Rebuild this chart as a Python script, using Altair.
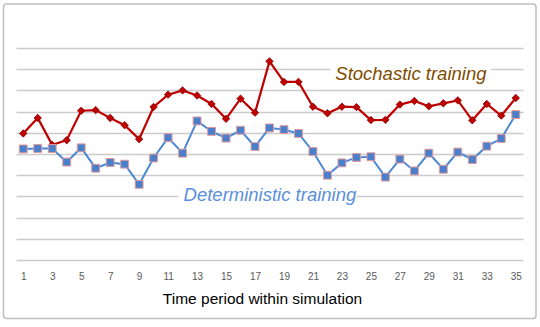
import altair as alt
import pandas as pd

# Time periods 1..35 and the two series (in gridline units, 0..10)
periods = list(range(1, 36))
stochastic = [5.97, 6.70, 5.43, 5.65, 7.04, 7.07, 6.70, 6.36, 5.70, 7.22,
              7.80, 8.00, 7.76, 7.36, 6.66, 7.61, 6.95, 9.37, 8.40, 8.40,
              7.23, 6.92, 7.23, 7.21, 6.60, 6.61, 7.33, 7.50, 7.25, 7.39,
              7.53, 6.59, 7.36, 6.81, 7.64]
deterministic = [5.24, 5.26, 5.26, 4.62, 5.29, 4.33, 4.60, 4.52, 3.57, 4.81,
                 5.77, 5.04, 6.56, 6.07, 5.75, 6.12, 5.35, 6.23, 6.15, 5.97,
                 5.12, 4.00, 4.58, 4.84, 4.87, 3.91, 4.76, 4.20, 5.04, 4.28,
                 5.09, 4.74, 5.37, 5.73, 6.86]
tick_labels = list(range(1, 36, 2))
grid_values = list(range(0, 11))

# Inline series labels
label_text = ["Stochastic training", "Deterministic training"]
label_color = ["#7F4C00", "#5A8FDB"]
label_x = [27.76, 18.03]
label_y = [8.76, 3.08]
box_x = [22.2, 11.7]
box_x2 = [33.3, 24.0]
box_y = [8.5, 2.7]
box_y2 = [9.3, 3.5]

df = pd.DataFrame({"period": periods, "stochastic": stochastic,
                   "deterministic": deterministic})
labels = pd.DataFrame({"text": label_text, "color": label_color,
                       "x": label_x, "y": label_y,
                       "bx": box_x, "bx2": box_x2, "by": box_y, "by2": box_y2})

xscale = alt.Scale(domain=[0.5, 35.5], nice=False, zero=False)
yscale = alt.Scale(domain=[0, 10], nice=False, zero=True)

x_axis = alt.Axis(values=tick_labels, tickCount=60, format="d", grid=False,
                  ticks=False, domain=False, labelOverlap=False,
                  title="Time period within  simulation",
                  labelFont="Liberation Sans", labelFontSize=10,
                  labelColor="#595959", labelPadding=11,
                  titleFont="Liberation Sans", titleFontSize=15.5,
                  titleFontWeight="normal", titleColor="#000000",
                  titlePadding=10, titleX=246, titleAlign="center")
y_axis = alt.Axis(values=grid_values, tickCount=60, grid=True, labels=False,
                  ticks=False, domain=False, title=None, gridColor="#CCCCCC",
                  gridWidth=1.5)


def xy(xfield, yfield):
    return dict(x=alt.X(xfield, type="quantitative", scale=xscale, axis=x_axis),
                y=alt.Y(yfield, type="quantitative", scale=yscale, axis=y_axis))


base = alt.Chart(df)

red_line = base.mark_line(color="#C00000", strokeWidth=2.2).encode(
    **xy("period", "stochastic"))
red_pts = base.mark_point(shape="diamond", filled=True, size=55,
                          fill="#C00000", stroke="#8B0000", strokeWidth=0.8,
                          opacity=1).encode(**xy("period", "stochastic"))

blue_line = base.mark_line(color="#4A88D6", strokeWidth=2).encode(
    **xy("period", "deterministic"))
blue_pts = base.mark_point(shape="square", filled=True, size=62,
                           fill="#4A7FCC", stroke="#E39A9A", strokeWidth=1,
                           opacity=1).encode(**xy("period", "deterministic"))

lab = alt.Chart(labels)
boxes = lab.mark_rect(fill="white").encode(
    **xy("bx", "by"), x2="bx2:Q", y2="by2:Q")
texts = lab.mark_text(font="Liberation Sans", fontSize=18.5, fontStyle="italic",
                      align="center", baseline="middle").encode(
    **xy("x", "y"), text="text:N", color=alt.Color("color:N", scale=None))

frame = alt.Chart(pd.DataFrame({"k": [0]})).mark_rect(
    fill="transparent", stroke="#BFBFBF", strokeWidth=1.5, cornerRadius=3
).encode(x=alt.value(-12.5), x2=alt.value(520),
         y=alt.value(-44), y2=alt.value(270.5))

chart = alt.layer(red_line, boxes, texts, red_pts, blue_line, blue_pts, frame).properties(
    width=507, height=212,
    autosize=alt.AutoSizeParams(type="none"),
    padding={"left": 16, "top": 48, "right": 17, "bottom": 67},
    background="white",
).configure_view(strokeWidth=0)

chart.save("out.html", embed_options={"renderer": "svg", "actions": False})
